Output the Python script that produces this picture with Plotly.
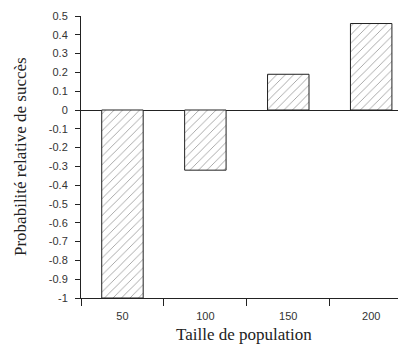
import plotly.graph_objects as go

categories = ["50", "100", "150", "200"]
values = [-1.0, -0.32, 0.19, 0.46]
y_ticks = [0.5, 0.4, 0.3, 0.2, 0.1, 0, -0.1, -0.2, -0.3, -0.4, -0.5, -0.6, -0.7, -0.8, -0.9, -1]
y_tick_labels = ["0.5", "0.4", "0.3", "0.2", "0.1", "0", "-0.1", "-0.2", "-0.3", "-0.4",
                 "-0.5", "-0.6", "-0.7", "-0.8", "-0.9", "-1"]
x_title = "Taille de population"
y_title = "Probabilité relative de succès"

fig = go.Figure(go.Bar(
    x=categories, y=values, width=0.5,
    marker=dict(color="white", line=dict(color="#222", width=1),
                pattern=dict(shape="/", fgcolor="#444", bgcolor="white", size=6, solidity=0.15)),
))

# page has an 8px body margin, so the figure is offset by 8px
fig.update_layout(
    width=398, height=341,
    margin=dict(l=73, r=0, t=8, b=51),
    paper_bgcolor="white", plot_bgcolor="white",
    showlegend=False,
    xaxis=dict(
        type="category", range=[-0.5, 3.42], tickson="boundaries", automargin=False,
        ticks="outside", ticklen=7, tickcolor="#222", showline=True, linecolor="#222",
        showgrid=False, ticklabelstandoff=8,
        tickfont=dict(family="Liberation Sans", size=11, color="#333"),
    ),
    yaxis=dict(
        range=[-1, 0.5], tickvals=y_ticks, ticktext=y_tick_labels, automargin=False,
        ticks="outside", ticklen=5, tickcolor="#222", showline=True, linecolor="#222",
        showgrid=False, zeroline=True, zerolinecolor="#222", zerolinewidth=1,
        ticklabelstandoff=5,
        tickfont=dict(family="Liberation Sans", size=11, color="#333"),
    ),
    annotations=[
        dict(text=x_title, xref="paper", yref="paper", x=0.5, y=0, yshift=-36,
             xanchor="center", yanchor="middle", showarrow=False,
             font=dict(family="Liberation Serif", size=17, color="#222")),
        dict(text=y_title, xref="paper", yref="paper", x=0, y=0.5, xshift=-61,
             xanchor="center", yanchor="middle", textangle=-90, showarrow=False,
             font=dict(family="Liberation Serif", size=17, color="#222")),
    ],
)

fig.write_html("out.html")
